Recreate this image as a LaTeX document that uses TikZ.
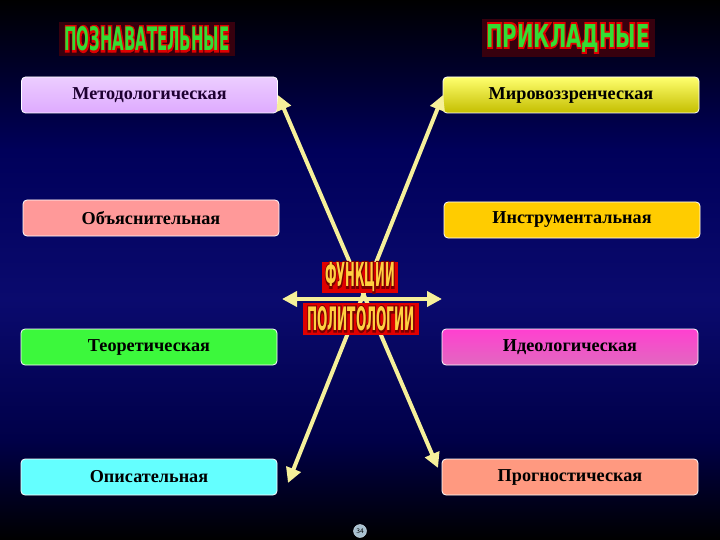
\documentclass[tikz,border=0pt]{standalone}
\usepackage{fontspec}
\setmainfont{Liberation Serif}
\newfontfamily\headfont{DejaVu Sans}
\newfontfamily\headglow{DejaVu Sans}[UprightFont=* Bold, FakeBold=12]
\usetikzlibrary{arrows.meta}
\definecolor{bgA}{HTML}{000000}
\definecolor{bgB}{HTML}{00005A}
\definecolor{bgC}{HTML}{0A0A6E}
\definecolor{bgD}{HTML}{000048}
\definecolor{hgreen}{HTML}{33DD33}
\definecolor{hred}{HTML}{E00000}
\definecolor{cyel}{HTML}{FFD040}
\definecolor{cdark}{HTML}{7A0000}
\definecolor{arrc}{HTML}{F6F09A}
\definecolor{pgc}{HTML}{A8C0D0}
\newcommand{\glowtext}[4]{\resizebox{#1}{#2}{\rlap{\color{#3}\headglow #4}\headfont\bfseries #4}}
\tikzset{
  fbox/.style={draw=white, line width=0.8pt, rounded corners=4pt,
    minimum width=256pt, minimum height=36pt, inner sep=0pt, text=black,
    font=\bfseries\fontsize{18.2}{20}\selectfont},
  arr/.style={draw=arrc, line width=4pt,
    {Triangle[length=15pt,width=15pt]}-{Triangle[length=15pt,width=15pt]}},
  head/.style={text=hgreen, inner sep=5pt, fill={rgb,255:red,55;green,0;blue,14}},
  ctitle/.style={fill=hred, text=cyel, inner sep=0pt}
}
\begin{document}
\begin{tikzpicture}[x=1pt,y=-1pt]
\useasboundingbox (0,0) rectangle (720,540);
% background
\shade[top color=bgA, bottom color=bgB] (0,0) rectangle (720,150.5);
\shade[top color=bgB, bottom color=bgC] (0,150) rectangle (720,300.5);
\shade[top color=bgC, bottom color=bgD] (0,300) rectangle (720,440.5);
\shade[top color=bgD, bottom color=bgA] (0,440) rectangle (720,540);
% headers
\node[head] (hl) at (147,39) {\glowtext{165pt}{24pt}{hred}{ПОЗНАВАТЕЛЬНЫЕ}};
\node[head] (hr) at (568,38) {\glowtext{163pt}{23pt}{hred}{ПРИКЛАДНЫЕ}};
% boxes
\node[fbox, text={rgb,255:red,30;green,0;blue,50}, top color={rgb,255:red,236;green,205;blue,255}, middle color={rgb,255:red,192;green,96;blue,240}, bottom color={rgb,255:red,222;green,170;blue,255}] (met) at (149.5,95) {Методологическая};
\node[fbox, top color={rgb,255:red,255;green,255;blue,110}, middle color={rgb,255:red,238;green,238;blue,0}, bottom color={rgb,255:red,196;green,190;blue,0}] (mir) at (571,95) {Мировоззренческая};
\node[fbox, fill={rgb,255:red,255;green,153;blue,153}] (obj) at (151,218) {Объяснительная};
\node[fbox, fill={rgb,255:red,255;green,204;blue,0}] (ins) at (572,220) {Инструментальная};
\node[fbox, fill={rgb,255:red,60;green,248;blue,60}] (teo) at (149,347) {Теоретическая};
\node[fbox, top color={rgb,255:red,255;green,64;blue,208}, bottom color={rgb,255:red,226;green,104;blue,192}] (ide) at (570,347) {Идеологическая};
\node[fbox, fill={rgb,255:red,100;green,255;blue,255}] (opi) at (149,477) {Описательная};
\node[fbox, fill={rgb,255:red,255;green,153;blue,128}] (pro) at (570,477) {Прогностическая};
% arrows
\coordinate (a1) at (278,95);
\coordinate (a2) at (438,468);
\coordinate (b1) at (443,95);
\coordinate (b2) at (288,483);
\coordinate (h1) at (282,299);
\coordinate (h2) at (442,299);
\draw[arr] (a1) -- (a2);
\draw[arr] (b1) -- (b2);
\draw[arr] (h1) -- (h2);
% centre title
\node[ctitle, minimum width=76pt, minimum height=31pt] (f1) at (360,277.5) {\glowtext{70pt}{24pt}{cdark}{ФУНКЦИИ}};
\node[ctitle, minimum width=116pt, minimum height=32pt] (f2) at (361,319) {\glowtext{108pt}{24pt}{cdark}{ПОЛИТОЛОГИИ}};
% page number
\node[circle, fill=pgc, draw={rgb,255:red,210;green,225;blue,235}, minimum size=13pt, inner sep=0pt, font=\sffamily\fontsize{7}{7}\selectfont] (pg) at (360,531) {34};
\end{tikzpicture}
\end{document}
